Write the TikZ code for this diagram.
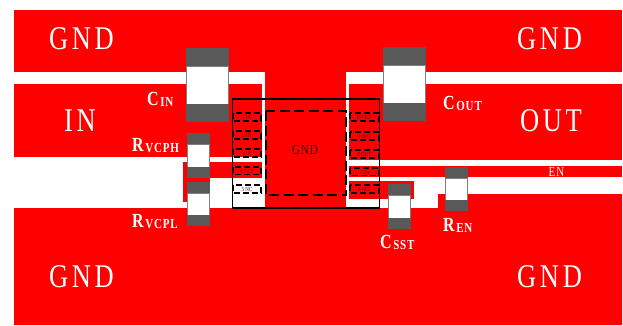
\documentclass[tikz,border=0pt]{standalone}
\usepackage{fontspec}
\setmainfont{Liberation Serif}
\newfontfamily\padfont[LetterSpace=14]{Liberation Serif}
\newfontfamily\subfont[LetterSpace=8]{Liberation Serif}
\definecolor{copper}{RGB}{255,0,0}
\definecolor{endcap}{RGB}{89,89,89}
\definecolor{pintext}{RGB}{90,10,10}
\tikzstyle{plane} = [fill=copper, draw=none]
\tikzstyle{term} = [fill=endcap, draw=none]
\tikzstyle{body} = [fill=white, draw=black!50, line width=1pt]
\tikzstyle{pin} = [draw=black, line width=1.9pt, dash pattern=on 6pt off 3pt]
\tikzstyle{biglabel} = [text=white, font=\padfont\fontsize{26.5}{26.5}\selectfont]
\tikzstyle{partlabel} = [text=white, font=\bfseries\fontsize{16}{16}\selectfont, inner sep=0pt]
\tikzstyle{pinlabel} = [text=pintext, font=\fontsize{5}{5}\selectfont, inner sep=0pt]
\newcommand{\tallbox}[1]{\scalebox{1}[1.25]{#1}}
\newcommand{\partlbl}[2]{\tallbox{#1\lower1.5pt\hbox{\subfont\bfseries\fontsize{11}{11}\selectfont\kern1.5pt #2}}}
\begin{document}
\begin{tikzpicture}[x=1pt,y=-1pt]
    \useasboundingbox (0,0) rectangle (623,325);
    \fill[white] (0,0) rectangle (623,325);

    % copper
    \fill[plane] (14,10) rectangle (622,72);
    \fill[plane] (265,72) rectangle (346,208);
    \fill[plane] (14,84) rectangle (262,157);
    \fill[plane] (349,84) rectangle (622,160);
    \fill[plane] (183,162) rectangle (262,178);
    \fill[plane] (183,178) rectangle (210,202);
    \fill[plane] (349,166) rectangle (622,177);
    \fill[plane] (349,181) rectangle (414,199);
    \fill[plane] (14,208) -- (438,208) -- (438,194) -- (622,194) -- (622,325) -- (14,325) -- cycle;

    % parts
    \filldraw[body] (186.5,66) rectangle (228.5,104);
    \fill[term] (186,48) rectangle (229,66);
    \fill[term] (186,104) rectangle (229,122);
    \filldraw[body] (383.5,65) rectangle (425.5,103);
    \fill[term] (383,47) rectangle (426,65);
    \fill[term] (383,103) rectangle (426,121);
    \filldraw[body] (187.5,144) rectangle (209.5,167);
    \fill[term] (187,133) rectangle (210,144);
    \fill[term] (187,167) rectangle (210,178);
    \filldraw[body] (187.5,193) rectangle (209.5,215);
    \fill[term] (187,182) rectangle (210,193);
    \fill[term] (187,215) rectangle (210,226);
    \filldraw[body] (388.5,195) rectangle (410.5,218);
    \fill[term] (388,184) rectangle (411,195);
    \fill[term] (388,218) rectangle (411,229);
    \filldraw[body] (445.5,178) rectangle (467.5,200);
    \fill[term] (445,167) rectangle (468,178);
    \fill[term] (445,200) rectangle (468,211);

    % package
    \draw[black, line width=1.2pt] (232.5,99) rectangle (379.5,208);
    \draw[black, line width=2.2pt, dash pattern=on 10pt off 4.5pt] (266,111) rectangle (346,195);

    \draw[pin] (233,113) rectangle (261,121);
    \draw[pin] (233,131) rectangle (261,139);
    \draw[pin] (233,149) rectangle (261,157);
    \draw[pin] (233,167) rectangle (261,174.5);
    \draw[pin] (233,185) rectangle (261,193);
    \draw[pin] (350,113) rectangle (379,121);
    \draw[pin] (350,132) rectangle (379,140);
    \draw[pin] (350,150) rectangle (379,158);
    \draw[pin] (350,168) rectangle (379,175.5);
    \draw[pin] (350,185) rectangle (379,193);

    \node[pinlabel] (pinone) at (247,117) {\tallbox{1 IN}};
    \node[pinlabel] (pintwo) at (247,135) {\tallbox{2 IN}};
    \node[pinlabel] (pinthree) at (247,153) {\tallbox{3 IN}};
    \node[pinlabel] (pinfour) at (247,171) {\tallbox{4 VCP}};
    \node[pinlabel] (pinfive) at (247,189) {\tallbox{5 NC}};
    \node[pinlabel] (pinten) at (364.5,117) {\tallbox{10 OUT}};
    \node[pinlabel] (pinnine) at (364.5,136) {\tallbox{9 OUT}};
    \node[pinlabel] (pineight) at (364.5,154) {\tallbox{8 OUT}};
    \node[pinlabel] (pinseven) at (364.5,172) {\tallbox{7 EN}};
    \node[pinlabel] (pinsix) at (364.5,189) {\tallbox{6 SST}};

    % labels
    \node[biglabel] (gndtl) at (81.5,39) {\tallbox{GND}};
    \node[biglabel] (gndtr) at (549.5,39) {\tallbox{GND}};
    \node[biglabel] (gndbl) at (81.5,277) {\tallbox{GND}};
    \node[biglabel] (gndbr) at (549.5,277) {\tallbox{GND}};
    \node[biglabel] (invin) at (80,121) {\tallbox{IN}};
    \node[biglabel] (vout) at (551,121) {\tallbox{OUT}};
    \node[text=black!75!copper, font=\subfont\fontsize{11}{11}\selectfont] (gndpad) at (305,150) {\tallbox{GND}};
    \node[text=white, font=\subfont\fontsize{11}{11}\selectfont] (entrace) at (556.5,172) {\tallbox{EN}};

    \node[partlabel, anchor=base west] (cin) at (147,105) {\partlbl{C}{IN}};
    \node[partlabel, anchor=base west] (cout) at (443,109) {\partlbl{C}{OUT}};
    \node[partlabel, anchor=base west] (rvcph) at (132,151) {\partlbl{R}{VCPH}};
    \node[partlabel, anchor=base west] (rvcpl) at (132,227) {\partlbl{R}{VCPL}};
    \node[partlabel, anchor=base west] (csst) at (380,248) {\partlbl{C}{SST}};
    \node[partlabel, anchor=base west] (ren) at (443,231) {\partlbl{R}{EN}};
\end{tikzpicture}
\end{document}
